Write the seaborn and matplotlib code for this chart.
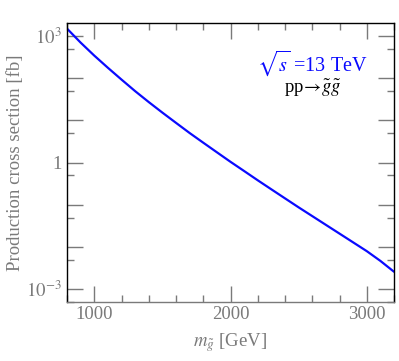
import numpy as np
import pandas as pd
import seaborn as sns
import matplotlib.pyplot as plt
from matplotlib.ticker import FixedLocator, FuncFormatter

# gluino pair production cross section, 13 TeV
mass = [800, 900, 1000, 1100, 1200, 1300, 1400, 1500, 1600, 1700, 1800, 1900,
        2000, 2100, 2200, 2300, 2400, 2500, 2600, 2700, 2800, 2900, 3000, 3100, 3200]
xsec = [1480, 690, 340, 175, 92, 49, 27, 15.2, 8.7, 5.0, 2.95, 1.75,
        1.04, 0.63, 0.38, 0.232, 0.142, 0.087, 0.054, 0.0335, 0.0208, 0.0129,
        0.0080, 0.0047, 0.0026]

df = pd.DataFrame({'m': mass, 'xs': xsec})

sns.set_style('ticks')
plt.rcParams['font.family'] = ['Liberation Serif', 'DejaVu Serif']
plt.rcParams['mathtext.fontset'] = 'stix'

fig = plt.figure(figsize=(3.99, 3.61), dpi=100)
ax = fig.add_axes([0.168, 0.1634, 0.8195, 0.7726])

sns.lineplot(data=df, x='m', y='xs', color='#0a0aff', linewidth=1.6, ax=ax)
ax.set_yscale('log')
ax.set_xlim(800, 3200)
ax.set_ylim(5e-4, 2e3)

grey = '#7a7a7a'
ax.xaxis.set_major_locator(FixedLocator([1000, 2000, 3000]))
ax.xaxis.set_minor_locator(FixedLocator([x for x in range(800, 3201, 200) if x % 1000]))
ax.yaxis.set_major_locator(FixedLocator([10.0 ** k for k in range(-3, 4)]))
ax.yaxis.set_minor_locator(FixedLocator([5 * 10.0 ** k for k in range(-4, 3)]))

def ylab(v, pos):
    if abs(v - 1e3) < 1:
        return r'$10^{3}$'
    if abs(v - 1) < 1e-6:
        return '1'
    if abs(v - 1e-3) < 1e-9:
        return r'$10^{-3}$'
    return ''

ax.yaxis.set_major_formatter(FuncFormatter(ylab))
ax.tick_params(which='both', direction='in', top=True, right=True,
               color=grey, width=1.0, labelcolor=grey, labelsize=13.5)
ax.tick_params(which='major', length=11.5)
ax.tick_params(which='minor', length=5)
ax.tick_params(axis='x', pad=3)

for s in ['left', 'top', 'right']:
    ax.spines[s].set_color('black')
ax.spines['bottom'].set_color(grey)
for s in ax.spines.values():
    s.set_linewidth(1.0)

ax.set_xlabel(r'$m_{\tilde{g}}$ [GeV]', color=grey, fontsize=13.5, labelpad=6)
ax.set_ylabel('Production cross section [fb]', color=grey, fontsize=13.5, labelpad=2)

ax.text(0.92, 0.855, r'$\sqrt{s}$ =13 TeV', transform=ax.transAxes, ha='right',
        va='center', color='#0a0aff', fontsize=14.5)
ax.text(0.84, 0.765, r'pp$\!\rightarrow\!\tilde{g}\tilde{g}$', transform=ax.transAxes,
        ha='right', va='center', color='black', fontsize=13.5)

plt.savefig('out.png', dpi=100)
